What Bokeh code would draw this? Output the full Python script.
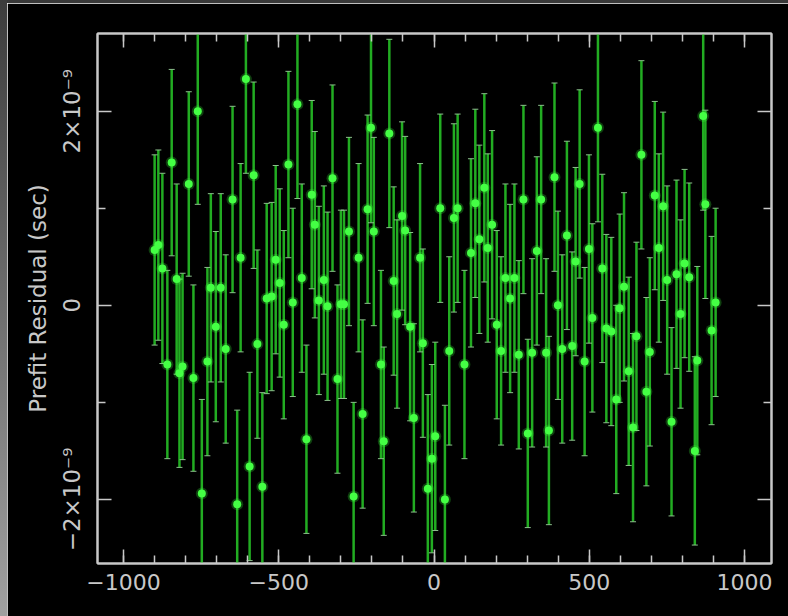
from bokeh.plotting import figure
from bokeh.models import (ColumnDataSource, Whisker, TeeHead, FixedTicker,
                          LinearAxis, Range1d, Div)
from bokeh.layouts import row, column
from bokeh.embed import file_html
from bokeh.resources import INLINE

# ---- data (x offset, residual in units of 1e-9 s, 1-sigma error in 1e-9 s) ----
x_offset = [-900, -888, -875, -859, -845, -829, -820, -810, -790, -775,
            -761, -748, -730, -719, -703, -687, -671, -649, -634, -623,
            -606, -594, -581, -569, -553, -539, -523, -510, -497, -484,
            -469, -455, -440, -426, -411, -394, -384, -371, -355, -343,
            -327, -311, -300, -290, -274, -259, -243, -230, -214, -203,
            -194, -171, -162, -144, -130, -119, -103, -93, -77, -65,
            -45, -36, -20, -7, 4, 20, 35, 49, 64, 76,
            98, 119, 133, 146, 162, 173, 187, 202, 216, 230,
            245, 259, 273, 288, 302, 316, 331, 345, 361, 370,
            388, 399, 413, 428, 445, 456, 469, 485, 499, 510,
            528, 542, 555, 571, 587, 598, 612, 627, 641, 652,
            668, 684, 695, 711, 724, 738, 751, 765, 781, 794,
            807, 822, 840, 848, 867, 874, 894, 907]

resid_ns = [0.57, 0.62, 0.38, -0.61, 1.47, 0.27, -0.70, -0.63, 1.25, -0.75,
            2.0, -1.94, -0.58, 0.18, -0.22, 0.18, -0.45, 1.09, -2.05, 0.49,
            2.33, -1.66, 1.34, -0.40, -1.87, 0.07, 0.09, 0.47, 0.23, -0.20,
            1.45, 0.03, 2.07, 0.28, -1.38, 1.14, 0.83, 0.05, 0.26, -0.01,
            1.31, -0.76, 0.01, 0.01, 0.76, -1.97, 0.49, -1.12, 0.99, 1.83,
            0.76, -0.61, -1.40, 1.77, 0.25, -0.09, 0.92, 0.77, -0.22, -1.16,
            0.49, -0.39, -1.89, -1.58, -1.35, 1.0, -2.0, -0.47, 0.9, 1.0,
            -0.61, 0.54, 1.05, 0.68, 1.21, 0.59, 0.83, -0.20, -0.47, 0.28,
            0.07, 0.28, -0.51, 1.09, -1.32, -0.49, 0.56, 1.09, -0.49, -1.29,
            1.32, 0.0, -0.45, 0.72, -0.42, 0.45, 1.25, -0.58, 0.58, -0.13,
            1.83, 0.38, -0.24, -0.27, -0.97, -0.03, 0.19, -0.68, -1.26, -0.32,
            1.55, -0.89, -0.48, 1.13, 0.59, 1.02, 0.26, -1.2, 0.32, -0.09,
            0.43, 0.29, -1.5, -0.57, 1.95, 1.04, -0.26, 0.03]

err_ns = [0.98, 0.98, 0.98, 0.97, 0.96, 0.98, 0.97, 0.96, 0.95, 0.96,
          0.96, 0.97, 0.97, 0.97, 0.98, 0.97, 0.97, 0.96, 0.97, 0.97,
          0.97, 0.97, 0.96, 0.97, 0.97, 0.98, 0.97, 0.97, 0.97, 0.97,
          0.96, 0.97, 0.97, 0.97, 0.97, 0.97, 0.96, 0.97, 0.97, 0.97,
          0.96, 0.97, 0.97, 0.97, 0.97, 0.97, 0.97, 0.97, 0.97, 0.98,
          0.97, 0.97, 0.97, 0.97, 0.97, 0.97, 0.97, 0.97, 0.97, 0.97,
          0.97, 0.97, 0.97, 0.97, 0.97, 0.97, 0.97, 0.97, 0.97, 0.97,
          0.97, 0.97, 0.97, 0.97, 0.97, 0.97, 0.97, 0.97, 0.97, 0.97,
          0.97, 0.97, 0.97, 0.97, 0.97, 0.97, 0.97, 0.97, 0.97, 0.97,
          0.97, 0.97, 0.97, 0.97, 0.97, 0.97, 0.97, 0.97, 0.97, 0.97,
          0.97, 0.97, 0.97, 0.97, 0.97, 0.97, 0.97, 0.97, 0.97, 0.97,
          0.97, 0.97, 0.97, 0.97, 0.97, 0.97, 0.97, 0.97, 0.97, 0.97,
          0.97, 0.97, 0.97, 0.97, 0.97, 0.97, 0.97, 0.97]

x_ticks = [-1000, -500, 0, 500, 1000]
x_minor_ticks = list(range(-1000, 1001, 100))
x_tick_labels = {-1000: "\u22121000", -500: "\u2212500", 0: "0", 500: "500", 1000: "1000"}
y_ticks = [-2, 0, 2]
y_minor_ticks = [-1, 1]
y_tick_labels = {-2: "\u22122\u00d710\u207b\u2079", 0: "0", 2: "2\u00d710\u207b\u2079"}
y_axis_label = "Prefit Residual (sec)"

upper = [r + e for r, e in zip(resid_ns, err_ns)]
lower = [r - e for r, e in zip(resid_ns, err_ns)]
src = ColumnDataSource(dict(x=x_offset, y=resid_ns, upper=upper, lower=lower))

FG = "#c8c8c8"
FONT = "DejaVu Sans"

p = figure(width=781, height=613, output_backend="svg", toolbar_location=None,
           x_range=Range1d(-1084, 1087), y_range=Range1d(-2.66, 2.80),
           x_axis_location=None, y_axis_location=None,
           background_fill_color="black", border_fill_color="black",
           min_border_left=90, min_border_right=17, min_border_top=30,
           min_border_bottom=53, margin=0)
p.xgrid.visible = False
p.ygrid.visible = False
p.outline_line_color = FG
p.outline_line_width = 2


def style_axis(ax, ticks, minor, labels):
    ax.ticker = FixedTicker(ticks=ticks, minor_ticks=minor)
    ax.axis_line_color = FG
    ax.axis_line_width = 2
    ax.major_tick_line_color = FG
    ax.major_tick_line_width = 1.5
    ax.minor_tick_line_color = FG
    ax.minor_tick_line_width = 1.5
    ax.major_tick_in = 14
    ax.major_tick_out = 0
    ax.minor_tick_in = 8
    ax.minor_tick_out = 0
    ax.major_label_text_color = FG
    ax.major_label_text_font = FONT
    ax.axis_label_text_color = FG
    ax.axis_label_text_font = FONT
    ax.axis_label_text_font_style = "normal"
    ax.major_label_overrides = labels


bottom = LinearAxis()
style_axis(bottom, x_ticks, x_minor_ticks, x_tick_labels)
bottom.major_label_text_font_size = "22px"
bottom.major_label_standoff = 10
p.add_layout(bottom, "below")

top = LinearAxis()
style_axis(top, x_ticks, x_minor_ticks, {t: "" for t in x_ticks})
top.major_label_standoff = 0
p.add_layout(top, "above")

left = LinearAxis(axis_label=y_axis_label)
style_axis(left, y_ticks, y_minor_ticks, y_tick_labels)
left.major_label_text_font_size = "23px"
left.major_label_orientation = "vertical"
left.major_label_standoff = 12
left.axis_label_text_font_size = "23px"
left.axis_label_standoff = 6
p.add_layout(left, "left")

right = LinearAxis()
style_axis(right, y_ticks, y_minor_ticks, {t: "" for t in y_ticks})
right.major_label_standoff = 0
p.add_layout(right, "right")

# error bars
wh = Whisker(source=src, base="x", upper="upper", lower="lower",
             line_color="#22ac22", line_width=2.5,
             upper_head=TeeHead(size=6, line_color="#8cbf8c", line_width=1),
             lower_head=TeeHead(size=6, line_color="#8cbf8c", line_width=1))
p.add_layout(wh)

# points with soft glow
p.scatter("x", "y", source=src, size=12, fill_color="#3cff3c", fill_alpha=0.25,
          line_color=None)
p.scatter("x", "y", source=src, size=8, fill_color="#44ff44", line_color=None)

strip = Div(text="", width=7, height=616, margin=0,
            styles={"background": "linear-gradient(to bottom, #3c3c3c, #a0a0a0)"})
top_band = Div(text="", width=781, height=3, margin=0,
               styles={"background": "#383838"})

page = row(strip, column(top_band, p, spacing=0), spacing=0)
open("out.html", "w").write(file_html(page, INLINE))
